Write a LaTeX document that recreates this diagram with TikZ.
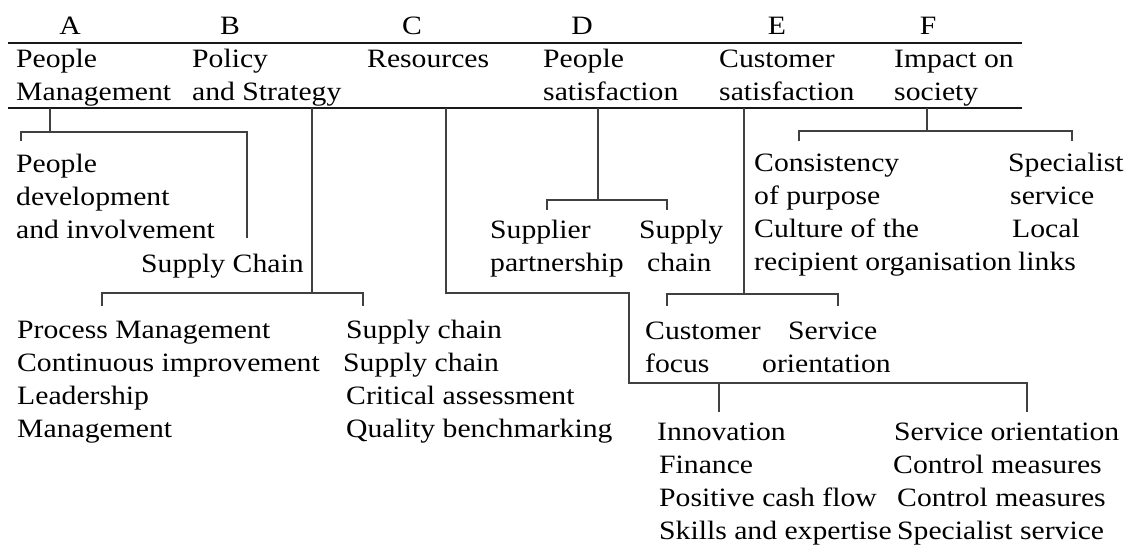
\documentclass[tikz,border=0pt]{standalone}
\usepackage{fontspec}
\setmainfont[FakeStretch=1.12]{Liberation Serif}
\begin{document}
\begin{tikzpicture}[x=1pt,y=-1pt,
  % multi-line texts are placed by the baseline of their last line
  txt/.style={anchor=base west, inner sep=0pt, align=left,
    font=\fontsize{26.5}{32.7}\selectfont},
  letter/.style={anchor=base, inner sep=0pt, font=\fontsize{26.5}{32.7}\selectfont},
  rule/.style={line width=1.3pt, black!90},
  branch/.style={line width=1.3pt, black!75}]
\useasboundingbox (0,0) rectangle (1126,546);

% column letters
\node[letter] (la) at (70,34) {A};
\node[letter] (lb) at (230,34) {B};
\node[letter] (lc) at (412,34) {C};
\node[letter] (ld) at (582,34) {D};
\node[letter] (le) at (777,34) {E};
\node[letter] (lf) at (928,34) {F};

% header band
\coordinate (t0) at (8,43);   \coordinate (t1) at (1022,43);
\coordinate (b0) at (8,108);  \coordinate (b1) at (1022,108);
\draw[rule] (t0) -- (t1);
\draw[rule] (b0) -- (b1);

\node[txt] (ha) at (16,100)  {People\\Management};
\node[txt] (hb) at (192,100) {Policy\\and Strategy};
\node[txt] (hc) at (367,67)  {Resources};
\node[txt] (hd) at (543,100) {People\\satisfaction};
\node[txt] (he) at (719,100) {Customer\\satisfaction};
\node[txt] (hf) at (894,100) {Impact on\\society};

% A: people management
\node[txt] (al) at (16,238) {People\\development\\and involvement};
\node[txt] (ar) at (141,272) {Supply Chain};
\coordinate (a0) at (50,108);
\draw[branch] (a0) -- (50,132);
\draw[branch] (21,141) -- (21,132) -- (247,132) -- (247,238);

% B: policy and strategy
\node[txt] (bl) at (17,437) {Process Management\\Continuous improvement\\Leadership\\Management};
\node[txt] (br) at (346,437) {Supply chain\\\hspace*{-3pt}Supply chain\\Critical assessment\\Quality benchmarking};
\draw[branch] (312,108) -- (312,293);
\draw[branch] (102,306) -- (102,293) -- (363,293) -- (363,306);

% C: resources
\node[txt] (cl) at (657,539) {Innovation\\\hspace*{2pt}Finance\\\hspace*{2pt}Positive cash flow\\\hspace*{2pt}Skills and expertise};
\node[txt] (cr) at (894,539) {Service orientation\\\hspace*{-1pt}Control measures\\\hspace*{3pt}Control measures\\\hspace*{3pt}Specialist service};
\draw[branch] (446,108) -- (446,293) -- (629,293) -- (629,383) -- (1027,383) -- (1027,412);
\draw[branch] (719,383) -- (719,412);

% D: people satisfaction
\node[txt] (dl) at (490,271) {Supplier\\partnership};
\node[txt] (dr) at (639,271) {Supply\\\hspace*{8pt}chain};
\draw[branch] (598,108) -- (598,200);
\draw[branch] (547,210) -- (547,200) -- (667,200) -- (667,210);

% E: customer satisfaction
\node[txt] (el) at (645,372) {Customer\\focus};
\node[txt] (er) at (762,372) {\hspace*{26pt}Service\\orientation};
\draw[branch] (744,108) -- (744,294);
\draw[branch] (667,306) -- (667,294) -- (838,294) -- (838,306);

% F: impact on society
\node[txt] (fl) at (754,270) {Consistency\\of purpose\\Culture of the\\recipient organisation};
\node[txt] (fr) at (1008,270) {Specialist\\\hspace*{2pt}service\\\hspace*{4pt}Local\\\hspace*{10pt}links};
\draw[branch] (927,108) -- (927,131);
\draw[branch] (799,141) -- (799,131) -- (1072,131) -- (1072,141);
\end{tikzpicture}
\end{document}
